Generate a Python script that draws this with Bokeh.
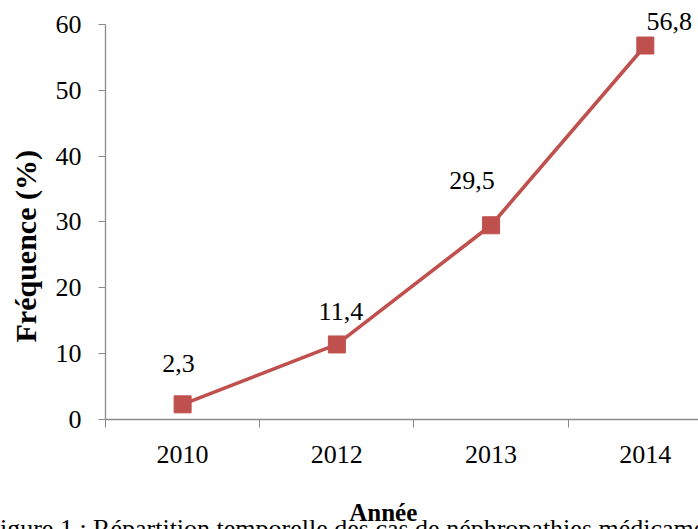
from bokeh.plotting import figure
from bokeh.models import Range1d, FixedTicker, ColumnDataSource, Title
from bokeh.core.properties import value
from bokeh.embed import file_html
from bokeh.resources import INLINE

# ---- data ----
years = ["2010", "2012", "2013", "2014"]
freq = [2.3, 11.4, 29.5, 56.8]
y_ticks = [0, 10, 20, 30, 40, 50, 60]

# ---- label placement (pixels, style only) ----
label_dx = [-4, 4, -19, 24]
label_dy = [-41, -33, -45, -24]

xs = [i + 1 for i in range(len(years))]
labels = [f"{v:.1f}".replace(".", ",") for v in freq]

FONT = "Liberation Serif"
RED = "#C0504D"
AXIS = "#8a8a8a"

W, H = 698, 529
left, bottom = 104, 109
px_per_cat = 154.5
px_per_unit = 6.6
frame_w = W - left
frame_h = H - bottom

p = figure(width=W, height=H, output_backend="svg", toolbar_location=None,
           x_range=Range1d(0.5, 0.5 + frame_w / px_per_cat),
           y_range=Range1d(0, frame_h / px_per_unit),
           min_border_left=left, min_border_bottom=bottom,
           min_border_top=0, min_border_right=0)
p.outline_line_color = None
p.xgrid.visible = False
p.ygrid.visible = False
p.background_fill_color = "white"
p.border_fill_color = "white"

src = ColumnDataSource(dict(x=xs, y=freq, lab=labels, dx=label_dx, dy=label_dy))
p.line("x", "y", source=src, line_color=RED, line_width=3.6)
p.scatter("x", "y", source=src, marker="square", size=17, fill_color=RED, line_color=RED)
p.text("x", "y", text="lab", source=src, x_offset="dx", y_offset="dy",
       text_font=value(FONT), text_font_size="26px", text_color="black",
       text_align="center", text_baseline="middle")

# x axis
xa = p.xaxis[0]
xa.ticker = FixedTicker(ticks=xs, minor_ticks=[x - 0.5 for x in xs] + [xs[-1] + 0.5])
xa.major_label_overrides = {x: y for x, y in zip(xs, years)}
xa.major_tick_out = 0
xa.major_tick_in = 0
xa.minor_tick_out = 8
xa.minor_tick_in = 0
xa.minor_tick_line_color = AXIS
xa.axis_line_color = AXIS
xa.axis_line_width = 1.3
xa.major_label_text_font = FONT
xa.major_label_text_font_size = "26px"
xa.major_label_text_color = "black"
xa.major_label_standoff = 18
xa.axis_label = "Année" + "\u00a0" * 6
xa.axis_label_text_font = FONT
xa.axis_label_text_font_size = "25px"
xa.axis_label_text_font_style = "bold"
xa.axis_label_text_color = "black"
xa.axis_label_standoff = 33

# y axis
ya = p.yaxis[0]
ya.ticker = FixedTicker(ticks=y_ticks, minor_ticks=[])
ya.bounds = (y_ticks[0], y_ticks[-1])
ya.major_tick_out = 7
ya.major_tick_in = 0
ya.major_tick_line_color = AXIS
ya.axis_line_color = AXIS
ya.axis_line_width = 1.3
ya.major_label_text_font = FONT
ya.major_label_text_font_size = "26px"
ya.major_label_text_color = "black"
ya.major_label_standoff = 17

# y title
p.add_layout(Title(text="Fréquence (%)", align="left", offset=77,
                   vertical_align="top", standoff=17,
                   text_font=FONT, text_font_size="30px", text_font_style="bold",
                   text_color="black"), "left")

# caption (cut by the bottom edge, as in the source)
p.add_layout(Title(text="Figure 1 : Répartition temporelle des cas de néphropathies médicamenteuses",
                   align="left", offset=-120, vertical_align="top", standoff=-30,
                   text_font=FONT, text_font_size="26px", text_font_style="normal",
                   text_color="black"), "below")

open("out.html", "w").write(file_html(p, INLINE))
